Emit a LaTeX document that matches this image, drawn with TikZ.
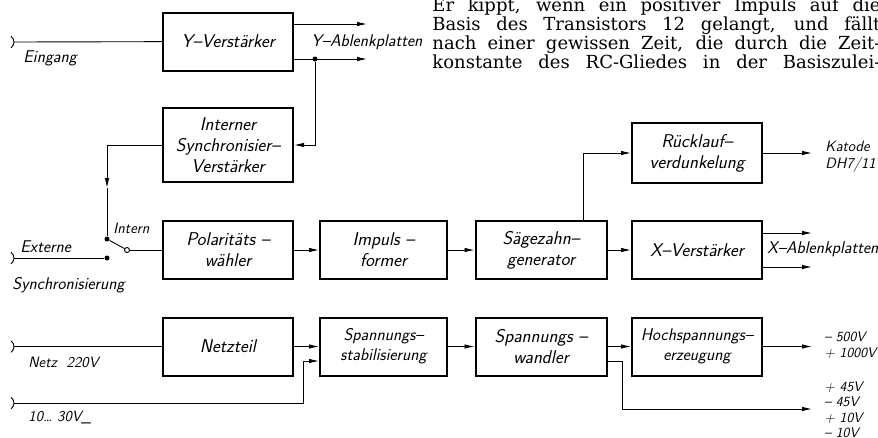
\documentclass[tikz,border=0pt]{standalone}
\usepackage{fontspec}
\newfontfamily\bookfont{DejaVu Serif}
\usetikzlibrary{arrows.meta}

\tikzset{
  >={Latex[length=10pt,width=4.5pt]},
  blk/.style={draw,line width=2pt,minimum width=130pt,minimum height=58pt,
    inner sep=2pt,align=center,font=\sffamily\slshape\fontsize{18.5}{21}\selectfont},
  blks/.style={blk,font=\sffamily\slshape\fontsize{17}{20}\selectfont},
  lbl/.style={font=\sffamily\slshape\fontsize{17}{21}\selectfont,inner sep=0pt},
  small/.style={font=\sffamily\slshape\fontsize{15}{17}\selectfont,inner sep=0pt,align=left},
  volt/.style={font=\sffamily\slshape\fontsize{14}{15.5}\selectfont,inner sep=0pt,align=left},
  dot/.style={circle,fill,inner sep=0pt,minimum size=5pt},
  ring/.style={circle,draw,fill=white,inner sep=0pt,minimum size=5pt,line width=0.9pt},
  book/.style={anchor=base west,inner sep=0pt,font=\bookfont\fontsize{18}{19}\selectfont},
  socket/.pic={\draw (-3pt,5.7pt) arc[start angle=55,end angle=-55,radius=7pt];}
}

\begin{document}
\begin{tikzpicture}[x=1pt,y=-1pt,line width=0.9pt]
    \clip (0,0) rectangle (878,437);

    % text of the page
    \node[book] (t1) at (432,11) {\makebox[448pt][s]{Er kippt, wenn ein positiver Impuls auf die}};
    \node[book] (t2) at (432,30) {\makebox[448pt][s]{Basis des Transistors 12 gelangt, und fällt}};
    \node[book] (t3) at (432,49) {\makebox[448pt][s]{nach einer gewissen Zeit, die durch die Zeit-}};
    \node[book] (t4) at (432,68) {\makebox[448pt][s]{konstante des RC-Gliedes in der Basiszulei-}};

    % blocks
    \node[blk] (yv) at (228,41.5) {Y--Verstärker};
    \node[blk,minimum height=74pt] (isv) at (228,145) {Interner\\Synchronisier--\\Verstärker};
    \node[blk] (pol) at (228,250) {Polaritäts --\\wähler};
    \node[blk,minimum width=127pt] (imp) at (383.5,250) {Impuls --\\former};
    \node[blk,minimum width=131pt] (saw) at (541,250) {Sägezahn--\\generator};
    \node[blk] (xv) at (697,250) {X--Verstärker};
    \node[blk,minimum height=60pt] (rl) at (697,153) {Rücklauf--\\verdunkelung};
    \node[blk] (net) at (228,346.5) {Netzteil};
    \node[blks,minimum width=127pt] (stab) at (383.5,346.5) {Spannungs--\\stabilisierung};
    \node[blk,minimum width=131pt] (wand) at (541,346.5) {Spannungs --\\wandler};
    \node[blks] (hoch) at (697,346.5) {Hochspannungs--\\erzeugung};

    % labels
    \node[lbl,anchor=west] (eing) at (23,58) {Eingang};
    \node[lbl,anchor=west] (yapl) at (311,42) {Y--Ablenkplatten};
    \node[small,anchor=west] (intl) at (113,228) {Intern};
    \node[lbl,anchor=west] (extl) at (20,247) {Externe};
    \node[lbl,anchor=west] (syncl) at (12,285) {Synchronisierung};
    \node[lbl,anchor=west] (xapl) at (767,249) {X--Ablenkplatten};
    \node[small,anchor=west] (katl) at (825,157) {Katode\\DH7/11};
    \node[volt,anchor=west] (volt1) at (824,345) {-- 500V\\+ 1000V};
    \node[volt,anchor=north west] (volt2) at (824,381) {+ 45V\\-- 45V\\+ 10V\\-- 10V};
    \node[small,anchor=west] (netl) at (28,362) {Netz\ \ 220V};
    \node[small,anchor=west] (batl) at (28,418) {10\dots\ 30V\_};

    % switch and end points
    \coordinate (inY) at (14,42);
    \coordinate (inE) at (14,258);
    \coordinate (inN) at (14,346.5);
    \coordinate (inB) at (14,403);
    \coordinate (ya1) at (367,24);
    \coordinate (ya2) at (367,59);
    \node[dot] (yj) at (315,59) {};
    \coordinate (mid) at (107,188);
    \node[dot] (sw) at (107,239) {};
    \node[ring] (swo) at (127,250) {};
    \node[dot] (swe) at (107,258) {};
    \coordinate (ka) at (812,153);
    \coordinate (xa1) at (812,233);
    \coordinate (xa2) at (812,267);
    \coordinate (bk) at (303,403);
    \coordinate (hv) at (812,346.5);
    \coordinate (lo) at (812,409);

    \pic at (inY) {socket};
    \pic at (inE) {socket};
    \pic at (inN) {socket};
    \pic at (inB) {socket};

    % connections
    \draw (inY) -- (yv);
    \draw[->] ([yshift=17.5pt]yv.east) -- (ya1);
    \draw[->] ([yshift=-17.5pt]yv.east) -- (ya2);
    \draw[->] (yj) |- (isv);
    \draw[->] (isv) -| (mid);
    \draw (mid) -- (sw);
    \draw (sw) -- (swo);
    \draw (swo) -- (pol);
    \draw (inE) -- (swe);
    \draw[->] (pol) -- (imp);
    \draw[->] (imp) -- (saw);
    \draw[->] (saw) -- (xv);
    \draw[->] ([xshift=42pt]saw.north) |- (rl);
    \draw[->] (rl) -- (ka);
    \draw[->] ([yshift=17pt]xv.east) -- (xa1);
    \draw[->] ([yshift=-17pt]xv.east) -- (xa2);
    \draw (inN) -- (net);
    \draw[->] (net) -- (stab);
    \draw[->] (inB) -- (bk) |- ([yshift=-14.5pt]stab.west);
    \draw[->] (stab) -- (wand);
    \draw[->] (wand) -- (hoch);
    \draw[->] (hoch) -- (hv);
    \draw[->] ([yshift=-14.5pt]wand.east) -- ++(15,0) |- (lo);
\end{tikzpicture}
\end{document}
